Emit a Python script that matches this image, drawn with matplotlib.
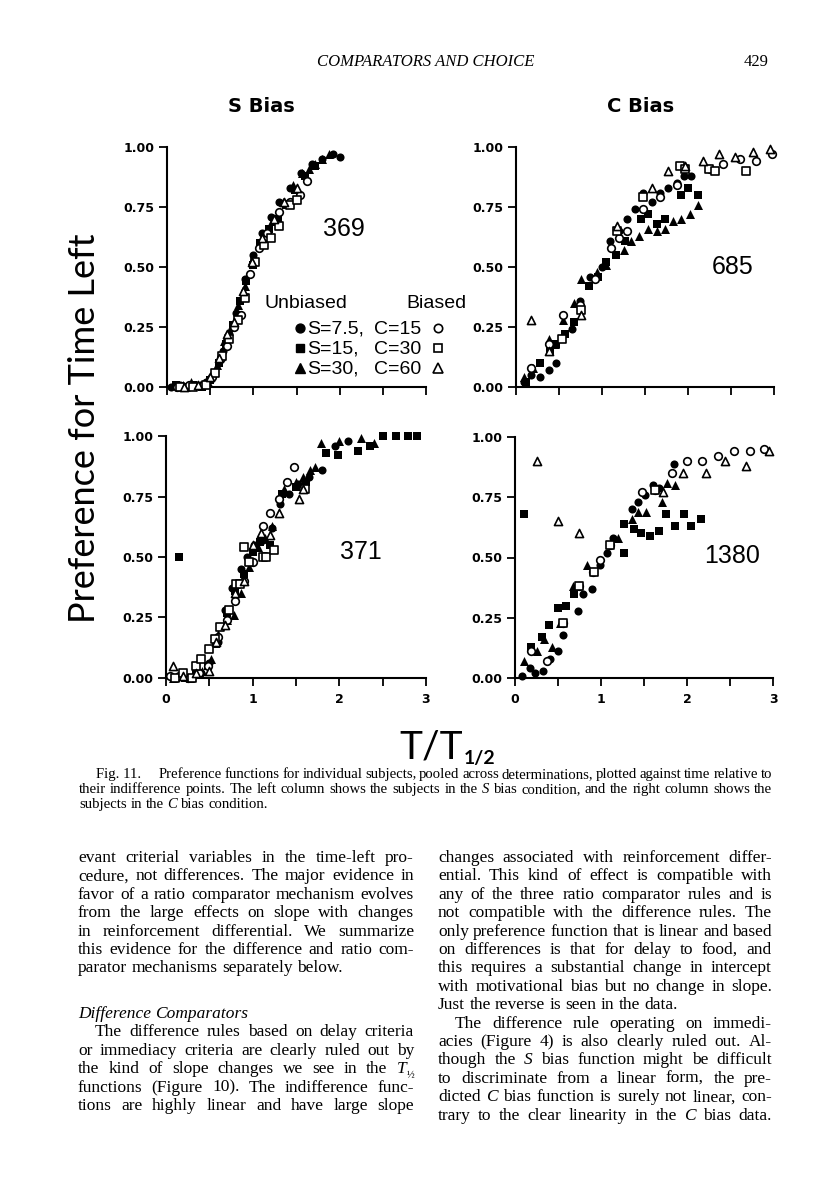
import matplotlib
matplotlib.use("Agg")
import matplotlib.pyplot as plt
from matplotlib.lines import Line2D

# ---- data (x = T/T1/2, y = preference for time left) ----
# subject 369 (S bias)
s369_fc_x = [0.05, 0.15, 0.25, 0.35, 0.45, 0.55, 0.65, 0.72, 0.80, 0.90, 1.00, 1.10, 1.20, 1.30, 1.42, 1.55, 1.68, 1.80, 1.92, 2.00]
s369_fc_y = [0.00, 0.01, 0.00, 0.01, 0.02, 0.06, 0.15, 0.22, 0.31, 0.45, 0.55, 0.64, 0.71, 0.77, 0.83, 0.89, 0.93, 0.95, 0.97, 0.96]
s369_fs_x = [0.10, 0.20, 0.30, 0.40, 0.50, 0.60, 0.68, 0.76, 0.84, 0.92, 1.00, 1.08, 1.18, 1.28, 1.38, 1.48, 1.60, 1.72]
s369_fs_y = [0.01, 0.00, 0.01, 0.00, 0.03, 0.10, 0.18, 0.26, 0.36, 0.44, 0.51, 0.60, 0.66, 0.70, 0.76, 0.82, 0.88, 0.92]
s369_ft_x = [0.08, 0.18, 0.28, 0.38, 0.48, 0.58, 0.66, 0.74, 0.82, 0.90, 0.98, 1.10, 1.22, 1.34, 1.46, 1.56, 1.64, 1.72, 1.80, 1.88]
s369_ft_y = [0.01, 0.01, 0.02, 0.01, 0.02, 0.09, 0.19, 0.25, 0.34, 0.42, 0.53, 0.62, 0.69, 0.77, 0.84, 0.89, 0.91, 0.93, 0.95, 0.97]
s369_oc_x = [0.12, 0.26, 0.42, 0.52, 0.62, 0.70, 0.78, 0.86, 0.96, 1.06, 1.16, 1.30, 1.42, 1.54, 1.62]
s369_oc_y = [0.00, 0.01, 0.01, 0.04, 0.12, 0.17, 0.25, 0.30, 0.47, 0.58, 0.64, 0.73, 0.77, 0.80, 0.86]
s369_os_x = [0.15, 0.30, 0.45, 0.56, 0.64, 0.72, 0.82, 0.90, 1.02, 1.12, 1.20, 1.30, 1.42, 1.50]
s369_os_y = [0.00, 0.00, 0.01, 0.06, 0.13, 0.20, 0.28, 0.37, 0.52, 0.59, 0.62, 0.67, 0.76, 0.78]
s369_ot_x = [0.20, 0.36, 0.50, 0.60, 0.70, 0.78, 0.88, 0.98, 1.10, 1.24, 1.36, 1.50]
s369_ot_y = [0.00, 0.01, 0.04, 0.12, 0.22, 0.27, 0.40, 0.52, 0.62, 0.70, 0.77, 0.83]

# subject 685 (C bias)
s685_fc_x = [0.09, 0.17, 0.28, 0.38, 0.47, 0.65, 0.74, 0.86, 1.00, 1.09, 1.20, 1.29, 1.38, 1.48, 1.58, 1.67, 1.77, 1.87, 1.95, 2.04]
s685_fc_y = [0.02, 0.05, 0.04, 0.07, 0.10, 0.24, 0.36, 0.46, 0.50, 0.61, 0.65, 0.70, 0.74, 0.81, 0.77, 0.81, 0.83, 0.85, 0.88, 0.88]
s685_fs_x = [0.12, 0.28, 0.40, 0.47, 0.57, 0.67, 0.85, 0.95, 1.05, 1.16, 1.27, 1.45, 1.54, 1.64, 1.73, 1.92, 2.00, 2.12]
s685_fs_y = [0.02, 0.10, 0.15, 0.18, 0.22, 0.27, 0.42, 0.46, 0.52, 0.55, 0.61, 0.70, 0.72, 0.68, 0.70, 0.80, 0.83, 0.80]
s685_ft_x = [0.09, 0.20, 0.38, 0.45, 0.55, 0.67, 0.76, 0.94, 1.05, 1.25, 1.34, 1.43, 1.53, 1.64, 1.73, 1.83, 1.92, 2.02, 2.12]
s685_ft_y = [0.04, 0.08, 0.20, 0.18, 0.28, 0.35, 0.45, 0.48, 0.51, 0.57, 0.61, 0.63, 0.66, 0.65, 0.66, 0.69, 0.70, 0.72, 0.76]
s685_oc_x = [0.17, 0.38, 0.55, 0.74, 0.92, 1.11, 1.20, 1.29, 1.48, 1.67, 1.87, 2.26, 2.41, 2.61, 2.79, 2.98]
s685_oc_y = [0.08, 0.18, 0.30, 0.34, 0.45, 0.58, 0.62, 0.65, 0.74, 0.79, 0.84, 0.91, 0.93, 0.95, 0.94, 0.97]
s685_os_x = [0.53, 0.76, 1.17, 1.48, 1.91, 1.97, 2.24, 2.31, 2.68]
s685_os_y = [0.20, 0.32, 0.65, 0.79, 0.92, 0.91, 0.91, 0.90, 0.90]
s685_ot_x = [0.18, 0.38, 0.76, 1.17, 1.58, 1.77, 1.97, 2.17, 2.36, 2.55, 2.76, 2.95]
s685_ot_y = [0.28, 0.15, 0.30, 0.67, 0.83, 0.90, 0.92, 0.94, 0.97, 0.96, 0.98, 0.99]

# subject 371 (S bias)
s371_fc_x = [0.10, 0.20, 0.30, 0.40, 0.50, 0.60, 0.68, 0.76, 0.86, 0.94, 1.02, 1.12, 1.22, 1.32, 1.42, 1.52, 1.65, 1.80, 1.95, 2.10]
s371_fc_y = [0.00, 0.01, 0.00, 0.02, 0.06, 0.15, 0.28, 0.37, 0.45, 0.50, 0.55, 0.57, 0.62, 0.72, 0.76, 0.80, 0.83, 0.86, 0.96, 0.98]
s371_fs_x = [0.15, 0.12, 0.22, 0.35, 0.48, 0.58, 0.70, 0.80, 0.90, 1.00, 1.08, 1.20, 1.34, 1.50, 1.62, 1.85, 1.98, 2.22, 2.35, 2.50, 2.65, 2.79, 2.90]
s371_fs_y = [0.50, 0.00, 0.00, 0.02, 0.05, 0.14, 0.27, 0.36, 0.43, 0.52, 0.56, 0.55, 0.76, 0.79, 0.81, 0.93, 0.92, 0.94, 0.96, 1.00, 1.00, 1.00, 1.00]
s371_ft_x = [0.08, 0.18, 0.28, 0.42, 0.52, 0.60, 0.70, 0.78, 0.86, 0.96, 1.06, 1.14, 1.22, 1.36, 1.50, 1.58, 1.66, 1.72, 1.79, 2.00, 2.25, 2.40]
s371_ft_y = [0.00, 0.01, 0.00, 0.03, 0.08, 0.18, 0.24, 0.26, 0.35, 0.46, 0.54, 0.58, 0.63, 0.78, 0.81, 0.83, 0.86, 0.87, 0.97, 0.98, 0.99, 0.97]
s371_oc_x = [0.05, 0.15, 0.25, 0.38, 0.48, 0.60, 0.70, 0.80, 0.90, 1.00, 1.12, 1.20, 1.30, 1.40, 1.48]
s371_oc_y = [0.01, 0.01, 0.00, 0.02, 0.05, 0.17, 0.24, 0.32, 0.40, 0.48, 0.63, 0.68, 0.74, 0.81, 0.87]
s371_os_x = [0.10, 0.20, 0.30, 0.35, 0.40, 0.50, 0.56, 0.62, 0.73, 0.81, 0.85, 0.90, 0.96, 1.12, 1.15, 1.25, 1.60]
s371_os_y = [0.00, 0.02, 0.00, 0.05, 0.08, 0.12, 0.16, 0.21, 0.28, 0.39, 0.39, 0.54, 0.48, 0.50, 0.50, 0.53, 0.78]
s371_ot_x = [0.08, 0.20, 0.35, 0.50, 0.58, 0.68, 0.80, 0.90, 1.00, 1.10, 1.20, 1.30, 1.54, 1.58]
s371_ot_y = [0.05, 0.01, 0.02, 0.03, 0.15, 0.22, 0.35, 0.40, 0.55, 0.60, 0.59, 0.68, 0.74, 0.78]

# subject 1380 (C bias)
s1380_fc_x = [0.08, 0.17, 0.23, 0.33, 0.41, 0.50, 0.56, 0.73, 0.79, 0.89, 0.99, 1.07, 1.14, 1.36, 1.43, 1.51, 1.61, 1.67, 1.85]
s1380_fc_y = [0.01, 0.04, 0.02, 0.03, 0.08, 0.11, 0.18, 0.28, 0.35, 0.37, 0.47, 0.52, 0.58, 0.70, 0.73, 0.76, 0.80, 0.79, 0.89]
s1380_fs_x = [0.10, 0.19, 0.31, 0.40, 0.50, 0.59, 0.69, 1.27, 1.27, 1.38, 1.47, 1.57, 1.67, 1.76, 1.86, 1.96, 2.05, 2.16]
s1380_fs_y = [0.68, 0.13, 0.17, 0.22, 0.29, 0.30, 0.35, 0.52, 0.64, 0.62, 0.60, 0.59, 0.61, 0.68, 0.63, 0.68, 0.63, 0.66]
s1380_ft_x = [0.10, 0.25, 0.34, 0.43, 0.52, 0.68, 0.84, 1.20, 1.36, 1.43, 1.52, 1.71, 1.77, 1.86]
s1380_ft_y = [0.07, 0.11, 0.16, 0.13, 0.23, 0.38, 0.47, 0.58, 0.66, 0.69, 0.69, 0.73, 0.81, 0.80]
s1380_oc_x = [0.19, 0.37, 0.56, 0.74, 0.91, 0.99, 1.10, 1.48, 1.63, 1.82, 2.00, 2.18, 2.36, 2.55, 2.73, 2.90]
s1380_oc_y = [0.11, 0.07, 0.23, 0.38, 0.44, 0.49, 0.55, 0.77, 0.78, 0.85, 0.90, 0.90, 0.92, 0.94, 0.94, 0.95]
s1380_os_x = [0.56, 0.74, 0.92, 1.10, 1.63]
s1380_os_y = [0.23, 0.38, 0.44, 0.55, 0.78]
s1380_ot_x = [0.26, 0.50, 0.74, 1.72, 1.95, 2.22, 2.44, 2.69, 2.95]
s1380_ot_y = [0.90, 0.65, 0.60, 0.77, 0.85, 0.85, 0.90, 0.88, 0.94]

ytick_vals = [0, 0.25, 0.5, 0.75, 1.0]
ytick_labels = ["0.00", "0.25", "0.50", "0.75", "1.00"]
xtick_vals = [0, 0.5, 1, 1.5, 2, 2.5, 3]
xtick_labels = ["0", "", "1", "", "2", "", "3"]
legend_rows = [("S=7.5,", "C=15"), ("S=15,", "C=30"), ("S=30,", "C=60")]

W, H = 816, 1200
fig = plt.figure(figsize=(W / 100, H / 100), dpi=100)
renderer = fig.canvas.get_renderer()
SERIF = "Liberation Serif"
SANS = "Liberation Sans"


def fx(px):
    return px / W


def fy(py):
    return 1 - py / H


# marker styles: (marker, size, filled)
styles = {"fc": ("o", 34, True), "fs": ("s", 28, True), "ft": ("^", 42, True),
          "oc": ("o", 30, False), "os": ("s", 28, False), "ot": ("^", 34, False)}


def panel(rect, series, label, label_pos, bottom):
    ax = fig.add_axes(rect)
    ax.set_xlim(0, 3)
    ax.set_ylim(0, 1)
    for side in ["top", "right"]:
        ax.spines[side].set_visible(False)
    for side in ["left", "bottom"]:
        ax.spines[side].set_linewidth(1.5)
    ax.set_yticks(ytick_vals)
    ax.set_yticklabels(ytick_labels)
    ax.set_xticks(xtick_vals)
    ax.set_xticklabels(xtick_labels if bottom else [""] * len(xtick_vals))
    ax.tick_params(direction="out", length=6, width=1.3, labelsize=9, pad=3)
    ax.tick_params(axis="x", length=6, pad=5)
    for lab in ax.get_yticklabels() + ax.get_xticklabels():
        lab.set_fontweight("bold")
        lab.set_family("DejaVu Sans")
    for key, (xs, ys) in series.items():
        m, s, filled = styles[key]
        if filled:
            ax.scatter(xs, ys, marker=m, s=s, c="black", linewidths=0, clip_on=False, zorder=3)
        else:
            ax.scatter(xs, ys, marker=m, s=s, facecolors="white", edgecolors="black",
                       linewidths=1.2, clip_on=False, zorder=4)
    ax.text(label_pos[0], label_pos[1], label, transform=ax.transAxes, fontsize=18,
            family=SANS, ha="center", va="center")
    return ax


panel([fx(167), fy(387), 259 / W, 240 / H],
      {"fc": (s369_fc_x, s369_fc_y), "fs": (s369_fs_x, s369_fs_y), "ft": (s369_ft_x, s369_ft_y),
       "oc": (s369_oc_x, s369_oc_y), "os": (s369_os_x, s369_os_y), "ot": (s369_ot_x, s369_ot_y)},
      "369", (0.683, 0.66), False)
panel([fx(516), fy(387), 258 / W, 240 / H],
      {"fc": (s685_fc_x, s685_fc_y), "fs": (s685_fs_x, s685_fs_y), "ft": (s685_ft_x, s685_ft_y),
       "oc": (s685_oc_x, s685_oc_y), "os": (s685_os_x, s685_os_y), "ot": (s685_ot_x, s685_ot_y)},
      "685", (0.84, 0.50), False)
panel([fx(166), fy(678), 260 / W, 242 / H],
      {"fc": (s371_fc_x, s371_fc_y), "fs": (s371_fs_x, s371_fs_y), "ft": (s371_ft_x, s371_ft_y),
       "oc": (s371_oc_x, s371_oc_y), "os": (s371_os_x, s371_os_y), "ot": (s371_ot_x, s371_ot_y)},
      "371", (0.75, 0.52), True)
panel([fx(515), fy(678), 258 / W, 241 / H],
      {"fc": (s1380_fc_x, s1380_fc_y), "fs": (s1380_fs_x, s1380_fs_y), "ft": (s1380_ft_x, s1380_ft_y),
       "oc": (s1380_oc_x, s1380_oc_y), "os": (s1380_os_x, s1380_os_y), "ot": (s1380_ot_x, s1380_ot_y)},
      "1380", (0.84, 0.506), True)

# legend inside the 369 panel
fig.text(fx(265), fy(308), "Unbiased", fontsize=14, family=SANS, va="baseline")
fig.text(fx(467), fy(308), "Biased", fontsize=14, family=SANS, va="baseline", ha="right")
row_y = [328, 348, 368]
filled = [("o", 6.4), ("s", 5.8), ("^", 7.2)]
opened = [("o", 6.0), ("s", 6.0), ("^", 6.8)]
for (s_txt, c_txt), yy, fm, om in zip(legend_rows, row_y, filled, opened):
    fig.add_artist(Line2D([fx(300)], [fy(yy)], marker=fm[0], ms=fm[1], color="black",
                          ls="none", transform=fig.transFigure))
    fig.add_artist(Line2D([fx(438)], [fy(yy)], marker=om[0], ms=om[1], mfc="white",
                          mec="black", mew=1.2, ls="none", transform=fig.transFigure))
    fig.text(fx(307), fy(yy + 6), s_txt, fontsize=14, family=SANS, va="baseline")
    fig.text(fx(374), fy(yy + 6), c_txt, fontsize=14, family=SANS, va="baseline")

# column titles, axis labels
fig.text(fx(261), fy(107), "S Bias", fontsize=14, family="DejaVu Sans", weight="bold",
         ha="center", va="center")
fig.text(fx(641), fy(107), "C Bias", fontsize=14, family="DejaVu Sans", weight="bold",
         ha="center", va="center")
fig.text(fx(85), fy(428), "Preference for Time Left", rotation=90, fontsize=26,
         family="Lato", ha="center", va="center")
tt = fig.text(fx(399), fy(759), "T/T", fontsize=28, family="Lato", va="baseline")
tw = tt.get_window_extent(renderer).width
fig.text(fx(399 + tw + 1), fy(764), "1/2", fontsize=14, family="Lato", weight="bold",
         va="baseline")

# running head
fig.text(fx(426), fy(66), "COMPARATORS AND CHOICE", fontsize=12, family=SERIF,
         style="italic", ha="center", va="baseline")
fig.text(fx(768), fy(66), "429", fontsize=12, family=SERIF, ha="right", va="baseline")


# ---- justified page text ----
def put(s, x, yb, size, style, draw):
    t = fig.text(fx(x), fy(yb), s, fontsize=size, family=SERIF, style=style,
                 va="baseline", ha="left")
    w = t.get_window_extent(renderer).width
    if not draw:
        t.remove()
    return w


def token(tok, x, yb, size, draw=True):
    if tok.startswith("T_"):
        w1 = put("T", x, yb, size, "italic", draw)
        w2 = put(tok[2:], x + w1, yb + size * 0.3, size * 0.6, "normal", draw)
        return w1 + w2
    style = "normal"
    if tok.startswith("*") and tok.endswith("*"):
        tok = tok[1:-1]
        style = "italic"
    return put(tok, x, yb, size, style, draw)


def fit_size(lines, x0, x1, base, min_space=0.15):
    f = 1.0
    for txt, indent, just in lines:
        toks = txt.split(" ")
        nat = sum(token(t, 0, 0, base, False) for t in toks) + min_space * base * 100 / 72 * (len(toks) - 1)
        f = min(f, (x1 - x0 - indent) / nat)
    return base * f


def block(lines, x0, x1, ys, size):
    for (txt, indent, just), yb in zip(lines, ys):
        toks = txt.split(" ")
        ws = [token(t, 0, 0, size, False) for t in toks]
        if just and len(toks) > 1:
            gap = (x1 - x0 - indent - sum(ws)) / (len(toks) - 1)
        else:
            gap = 0.25 * size * 100 / 72
        x = x0 + indent
        for t, w in zip(toks, ws):
            token(t, x, yb, size)
            x += w + gap


caption = [
    ("Fig.\u00a011.\u2002\u2002 Preference functions for individual subjects, pooled across determinations, plotted against time relative to", 17, True),
    ("their indifference points. The left column shows the subjects in the *S* bias condition, and the right column shows the", 0, True),
    ("subjects in the *C* bias condition.", 0, False),
]
cap_size = fit_size(caption, 79, 772, 11.0, 0.2)
block(caption, 79, 772, [778, 793, 808], cap_size)

left_col = [
    ("evant criterial variables in the time-left pro-", 0, True),
    ("cedure, not differences. The major evidence in", 0, True),
    ("favor of a ratio comparator mechanism evolves", 0, True),
    ("from the large effects on slope with changes", 0, True),
    ("in reinforcement differential. We summarize", 0, True),
    ("this evidence for the difference and ratio com-", 0, True),
    ("parator mechanisms separately below.", 0, False),
    ("*Difference* *Comparators*", 0, False),
    ("The difference rules based on delay criteria", 17, True),
    ("or immediacy criteria are clearly ruled out by", 0, True),
    ("the kind of slope changes we see in the T_\u00bd", 0, True),
    ("functions (Figure 10). The indifference func-", 0, True),
    ("tions are highly linear and have large slope", 0, True),
]
left_y = [862 + 18.4 * k for k in range(7)] + [1018] + [1036.4 + 18.4 * k for k in range(5)]
right_col = [
    ("changes associated with reinforcement differ-", 0, True),
    ("ential. This kind of effect is compatible with", 0, True),
    ("any of the three ratio comparator rules and is", 0, True),
    ("not compatible with the difference rules. The", 0, True),
    ("only preference function that is linear and based", 0, True),
    ("on differences is that for delay to food, and", 0, True),
    ("this requires a substantial change in intercept", 0, True),
    ("with motivational bias but no change in slope.", 0, True),
    ("Just the reverse is seen in the data.", 0, False),
    ("The difference rule operating on immedi-", 17, True),
    ("acies (Figure 4) is also clearly ruled out. Al-", 0, True),
    ("though the *S* bias function might be difficult", 0, True),
    ("to discriminate from a linear form, the pre-", 0, True),
    ("dicted *C* bias function is surely not linear, con-", 0, True),
    ("trary to the clear linearity in the *C* bias data.", 0, True),
]
right_y = [862 + 18.4 * k for k in range(15)]
body_size = min(fit_size(left_col, 78, 414, 12.5, 0.15), fit_size(right_col, 438, 772, 12.5, 0.15))
block(left_col, 78, 414, left_y, body_size)
block(right_col, 438, 772, right_y, body_size)

fig.savefig("out.png", dpi=100)
